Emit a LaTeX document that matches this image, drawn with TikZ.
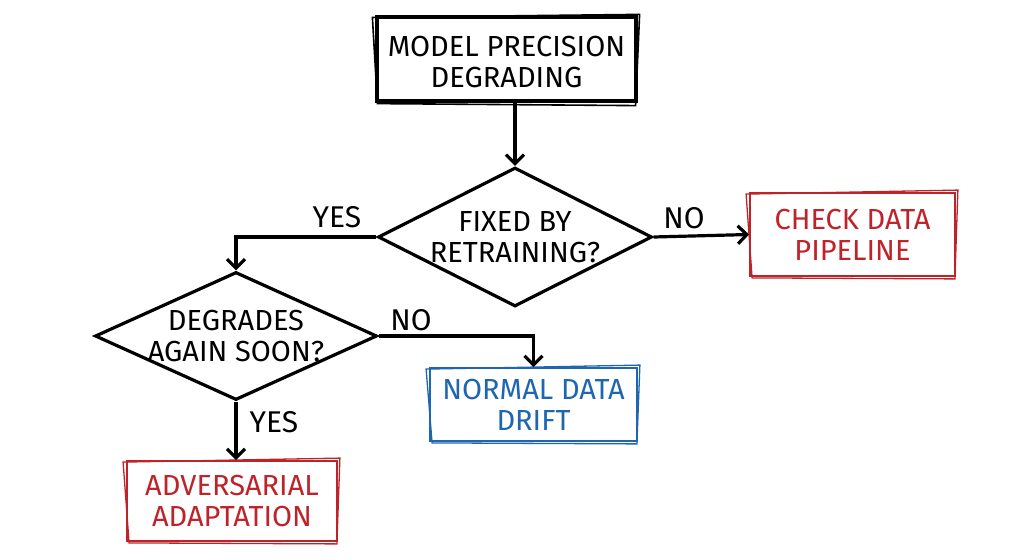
\documentclass[tikz,border=0pt]{standalone}
\usepackage{fontspec}
\setmainfont{Fira Sans}
\usetikzlibrary{shapes.geometric,arrows.meta,calc}
\definecolor{myred}{RGB}{190,35,42}
\definecolor{myblue}{RGB}{30,102,176}
\begin{document}
\begin{tikzpicture}[x=1pt,y=-1pt,
  every node/.style={font=\fontsize{29}{31}\selectfont, align=center},
  blackbox/.style={draw=black, line width=3.2pt, minimum width=259pt, minimum height=84pt, inner sep=0pt},
  redbox/.style={draw=myred, text=myred, line width=1.8pt, inner sep=0pt},
  bluebox/.style={draw=myblue, text=myblue, line width=1.8pt, inner sep=0pt},
  decision/.style={diamond, draw=black, line width=3.2pt, inner sep=0pt},
  conn/.style={draw=black, line width=3.2pt, -{Straight Barb[length=9pt,width=18pt,line width=3.2pt]}},
  lbl/.style={font=\fontsize{30}{32}\selectfont, text=black}]
\useasboundingbox (0,0) rectangle (1024,559);

\node[blackbox] (top) at (506.5,59) {};
\node (topt) at ([yshift=-3pt]top.center) {MODEL PRECISION\\DEGRADING};
\draw[line width=1.6pt] ([shift={(-3,2)}]top.north west) -- ([shift={(2,-1)}]top.north east)
  -- ([shift={(-2,3)}]top.south east) -- ([shift={(2,1)}]top.south west) -- cycle;

\node[decision, minimum width=274pt, minimum height=139pt] (d1) at (515,237) {};
\node (d1t) at (d1) {FIXED BY\\RETRAINING?};

\node[redbox, minimum width=205pt, minimum height=83pt] (check) at (852.5,234.5) {CHECK DATA\\PIPELINE};
\draw[myred, line width=1.3pt] ([shift={(-3,2)}]check.north west) -- ([shift={(2,-2)}]check.north east)
  -- ([shift={(-1,2)}]check.south east) -- ([shift={(3,1)}]check.south west) -- cycle;

\node[decision, minimum width=282pt, minimum height=128pt] (d2) at (236,336) {};
\node (d2t) at (d2) {DEGRADES\\AGAIN SOON?};

\node[bluebox, minimum width=207pt, minimum height=73pt] (normal) at (533.5,404.5) {NORMAL DATA\\DRIFT};
\draw[myblue, line width=1.3pt] ([shift={(-3,2)}]normal.north west) -- ([shift={(2,-2)}]normal.north east)
  -- ([shift={(-1,2)}]normal.south east) -- ([shift={(3,1)}]normal.south west) -- cycle;

\node[redbox, minimum width=210pt, minimum height=80pt] (adv) at (232,501) {ADVERSARIAL\\ADAPTATION};
\draw[myred, line width=1.3pt] ([shift={(-3,2)}]adv.north west) -- ([shift={(2,-2)}]adv.north east)
  -- ([shift={(-1,2)}]adv.south east) -- ([shift={(3,1)}]adv.south west) -- cycle;

\draw[conn] (d1.north |- top.south) -- (d1.north);
\draw[conn] (d1.west) -| (d2.north);
\draw[conn] (d1.east) -- (check.west);
\draw[conn] (d2.east) -| (normal.north);
\draw[conn] (d2.south) -- (d2.south |- adv.north);

\node[lbl] (yes1) at (337,217) {YES};
\node[lbl] (no1) at (684,218) {NO};
\node[lbl] (no2) at (411,320) {NO};
\node[lbl] (yes2) at (274,422) {YES};
\end{tikzpicture}
\end{document}
